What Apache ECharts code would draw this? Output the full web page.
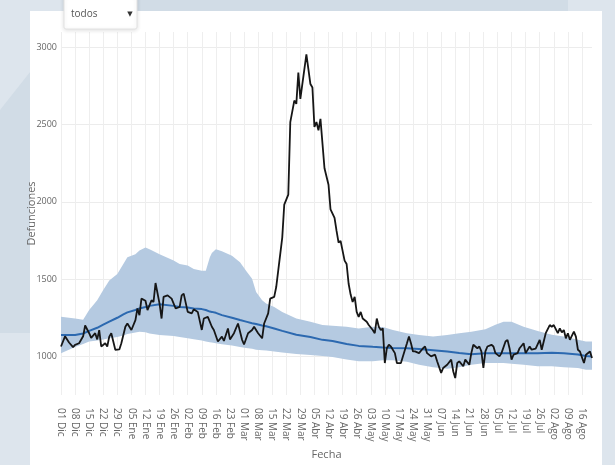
<!DOCTYPE html>
<html>
<head>
<meta charset="utf-8">
<script src="https://cdn.jsdelivr.net/npm/echarts@6/dist/echarts.min.js"></script>
<style>
  html, body { margin: 0; padding: 0; background: #dde5ed; }
  #grafico { width: 615px; height: 465px; }
</style>
</head>
<body>
<div id="grafico"></div>
<script>
// Month abbreviations used for the daily category labels
const mesesCortos = ['Ene', 'Feb', 'Mar', 'Abr', 'May', 'Jun', 'Jul', 'Ago', 'Sep', 'Oct', 'Nov', 'Dic'];

// Daily categories, 01 Dic 2019 .. 21 Ago 2020
const fechas = [];
for (let t = Date.UTC(2019, 11, 1); t <= Date.UTC(2020, 7, 21); t += 86400000) {
  const d = new Date(t);
  fechas.push(String(d.getUTCDate()).padStart(2, '0') + ' ' + mesesCortos[d.getUTCMonth()]);
}

// Expected deaths and its confidence band (day index from 01 Dic)
const diaEsperado = [0, 7, 11, 14, 18, 21, 24, 28, 31, 33, 37, 39, 42, 44, 49, 56, 59, 63, 66, 70,
  72, 74, 75, 77, 80, 85, 89, 92, 95, 97, 100, 102, 106, 110, 117, 124, 130, 135, 142, 148,
  155, 160, 165, 172, 178, 185, 192, 198, 204, 211, 216, 220, 224, 230, 237, 244, 250, 257, 261, 264];
const esperadas = [1139, 1139, 1148, 1165, 1185, 1205, 1225, 1250, 1272, 1285, 1300, 1310, 1320, 1327, 1338, 1327, 1320, 1316, 1310, 1306,
  1300, 1290, 1288, 1282, 1267, 1250, 1235, 1225, 1215, 1210, 1200, 1195, 1181, 1165, 1140, 1125, 1107, 1100, 1080, 1068,
  1062, 1058, 1055, 1053, 1048, 1040, 1032, 1022, 1014, 1020, 1021, 1021, 1021, 1021, 1021, 1024, 1020, 1012, 1002, 1000];
const limiteInferior = [1021, 1060, 1080, 1096, 1103, 1110, 1117, 1125, 1135, 1145, 1155, 1160, 1156, 1148, 1139, 1132, 1125, 1117, 1111, 1103,
  1096, 1092, 1090, 1085, 1078, 1070, 1060, 1055, 1049, 1043, 1040, 1038, 1032, 1025, 1016, 1009, 1003, 996, 980, 968,
  968, 975, 975, 965, 946, 930, 920, 930, 946, 957, 957, 957, 952, 946, 936, 936, 930, 925, 914, 914];
const limiteSuperior = [1256, 1245, 1237, 1300, 1363, 1429, 1492, 1534, 1598, 1641, 1662, 1685, 1705, 1694, 1662, 1620, 1598, 1588, 1566, 1555,
  1555, 1641, 1670, 1694, 1680, 1652, 1609, 1555, 1502, 1417, 1363, 1342, 1320, 1288, 1245, 1224, 1203, 1198, 1192, 1181,
  1192, 1190, 1171, 1150, 1139, 1128, 1139, 1150, 1160, 1175, 1205, 1224, 1224, 1192, 1165, 1140, 1128, 1107, 1096, 1096];

// Observed daily deaths (day index from 01 Dic)
const diaObservado = [0, 2, 4, 6, 7, 9, 11, 12, 14, 15, 17, 18, 19, 20, 22, 23, 24, 25, 27, 29,
  30, 32, 33, 35, 37, 38, 39, 40, 42, 43, 45, 46, 47, 49, 50, 51, 53, 55, 57, 59,
  60, 61, 63, 65, 66, 68, 70, 71, 73, 75, 76, 78, 80, 81, 83, 84, 86, 88, 90, 91,
  93, 95, 96, 98, 100, 101, 103, 104, 106, 107, 108, 110, 111, 113, 114, 116, 117, 118, 119, 122,
  123, 124, 125, 126, 127, 128, 129, 131, 133, 134, 136, 137, 138, 139, 141, 142, 143, 144, 145, 146,
  147, 148, 149, 150, 152, 153, 155, 156, 157, 158, 159, 160, 161, 162, 163, 164, 166, 167, 169, 171,
  172, 173, 174, 175, 176, 178, 180, 181, 182, 184, 186, 187, 189, 190, 192, 194, 195, 196, 197, 198,
  200, 201, 203, 204, 205, 207, 208, 209, 210, 211, 212, 214, 215, 216, 218, 219, 221, 222, 223, 224,
  225, 227, 228, 230, 231, 233, 234, 236, 238, 239, 241, 243, 244, 245, 247, 248, 249, 250, 251, 252,
  253, 255, 256, 257, 258, 260, 261, 263, 264];
const defuncionesObservadas = [1064, 1130, 1090, 1060, 1075, 1085, 1130, 1200, 1150, 1120, 1150, 1110, 1170, 1064, 1085, 1064, 1128, 1150, 1043, 1045,
  1085, 1192, 1213, 1171, 1235, 1310, 1267, 1374, 1360, 1300, 1363, 1352, 1475, 1342, 1245, 1385, 1395, 1374, 1310, 1320,
  1395, 1406, 1288, 1278, 1305, 1288, 1171, 1245, 1256, 1192, 1171, 1096, 1128, 1100, 1181, 1110, 1150, 1213, 1109, 1077,
  1150, 1171, 1192, 1150, 1117, 1213, 1278, 1374, 1385, 1449, 1555, 1769, 1983, 2047, 2517, 2656, 2635, 2838, 2667, 2955,
  2859, 2763, 2741, 2485, 2517, 2463, 2538, 2218, 2111, 1951, 1897, 1812, 1737, 1748, 1620, 1598, 1470, 1400, 1352, 1385,
  1288, 1256, 1288, 1245, 1224, 1203, 1171, 1150, 1245, 1192, 1171, 1181, 957, 1053, 1075, 1064, 1021, 957, 957, 1043,
  1085, 1128, 1085, 1032, 1032, 1021, 1053, 1064, 1021, 1000, 1011, 968, 893, 925, 946, 979, 904, 860, 957, 968,
  936, 979, 946, 1021, 1075, 1053, 1064, 1032, 925, 1032, 1064, 1075, 1064, 1021, 1000, 1021, 1096, 1107, 1053, 979,
  1011, 1021, 1053, 1085, 1021, 1064, 1043, 1050, 1107, 1043, 1150, 1203, 1192, 1203, 1150, 1181, 1155, 1171, 1117, 1150,
  1107, 1160, 1128, 1043, 1032, 957, 1011, 1032, 989];

// Y axis tick labels
const etiquetasY = [1000, 1500, 2000, 2500, 3000];

const textoEje = '#666';
const fuente = "'Open Sans', 'Noto Sans', sans-serif";

const chart = echarts.init(document.getElementById('grafico'), null, { renderer: 'canvas' });

chart.setOption({
  animation: false,
  backgroundColor: '#dde5ed',
  textStyle: { fontFamily: fuente },
  graphic: [
    // page panel and surrounding decoration
    { type: 'polygon', z: -2, silent: true,
      shape: { points: [[87, 0], [568, 0], [568, 11], [30, 11], [30, 333], [0, 333], [0, 110]] },
      style: { fill: '#d1dce6' } },
    { type: 'rect', z: -1, silent: true,
      shape: { x: 30, y: 11, width: 572, height: 460 },
      style: { fill: '#ffffff' } },
    // "todos" dropdown
    { type: 'rect', z: 100, silent: true,
      shape: { x: 64, y: -6, width: 73, height: 35, r: 2 },
      style: { fill: '#ffffff', stroke: '#e2e2e2', lineWidth: 1,
        shadowBlur: 4, shadowColor: 'rgba(0,0,0,0.12)', shadowOffsetY: 1 } },
    { type: 'text', z: 101, silent: true, x: 71, y: 14,
      style: { text: 'todos', fill: '#555', font: "10px 'Open Sans', sans-serif", verticalAlign: 'middle' } },
    { type: 'text', z: 101, silent: true, x: 130, y: 14,
      style: { text: '▼', fill: '#333', font: "7px 'DejaVu Sans', sans-serif", align: 'center', verticalAlign: 'middle' } }
  ],
  grid: { left: 61, right: 23, top: 32, bottom: 66, containLabel: false },
  xAxis: {
    type: 'category',
    data: fechas,
    boundaryGap: false,
    name: 'Fecha',
    nameLocation: 'middle',
    nameGap: 54,
    nameMoveOverlap: false,
    nameTextStyle: { color: textoEje, fontSize: 11, fontFamily: fuente },
    axisLine: { show: false },
    axisTick: { show: false },
    axisLabel: {
      interval: 6,
      rotate: -90,
      margin: 13,
      color: textoEje,
      fontSize: 10,
      fontFamily: fuente
    },
    splitLine: { show: true, interval: 6, lineStyle: { color: '#eeeeee', width: 1 } }
  },
  yAxis: {
    type: 'value',
    min: 750,
    max: 3100,
    interval: 250,
    name: 'Defunciones',
    nameLocation: 'middle',
    nameGap: 24,
    nameMoveOverlap: false,
    nameTextStyle: { color: textoEje, fontSize: 11, fontFamily: fuente },
    axisLine: { show: false },
    axisTick: { show: false },
    axisLabel: {
      margin: 4,
      color: textoEje,
      fontSize: 9,
      fontFamily: fuente,
      formatter: v => (etiquetasY.indexOf(v) >= 0 ? String(v) : '')
    },
    splitLine: { show: true, lineStyle: { color: ['rgba(0,0,0,0)', '#ececec'], width: 1 } }
  },
  series: [
    {
      name: 'Límite inferior',
      type: 'line',
      stack: 'banda',
      symbol: 'none',
      silent: true,
      lineStyle: { width: 0, opacity: 0 },
      data: diaEsperado.map((d, i) => [d, limiteInferior[i]]),
      z: 2
    },
    {
      name: 'Intervalo',
      type: 'line',
      stack: 'banda',
      symbol: 'none',
      silent: true,
      lineStyle: { width: 0, opacity: 0 },
      areaStyle: { color: '#b5cae1', opacity: 1 },
      data: diaEsperado.map((d, i) => [d, limiteSuperior[i] - limiteInferior[i]]),
      z: 2
    },
    {
      name: 'Esperadas',
      type: 'line',
      symbol: 'none',
      lineStyle: { color: '#2c69b0', width: 2 },
      data: diaEsperado.map((d, i) => [d, esperadas[i]]),
      z: 3
    },
    {
      name: 'Observadas',
      type: 'line',
      symbol: 'none',
      lineStyle: { color: '#161616', width: 1.8 },
      data: diaObservado.map((d, i) => [d, defuncionesObservadas[i]]),
      z: 4
    }
  ]
});
</script>
</body>
</html>
